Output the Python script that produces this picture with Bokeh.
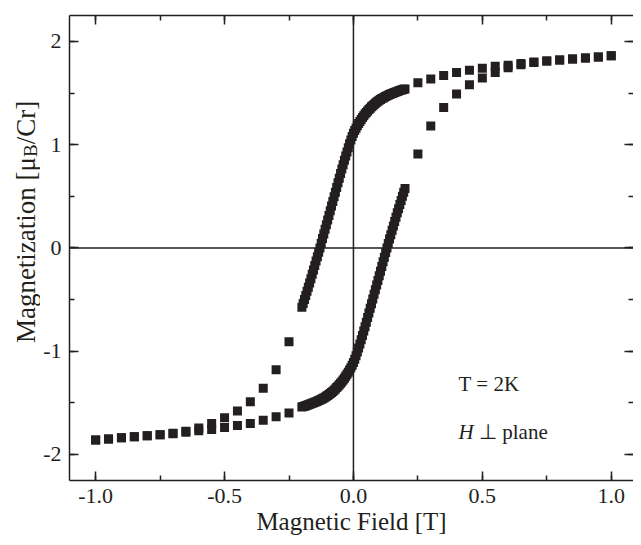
import numpy as np
from bokeh.plotting import figure
from bokeh.layouts import row
from bokeh.core.properties import value
from bokeh.models import Span, Label, LinearAxis, FixedTicker, Range1d
from bokeh.embed import file_html
from bokeh.resources import INLINE

# ---------------- data ----------------
# sparse outer points (0.05 T steps)
H_pos = [0.25, 0.30, 0.35, 0.40, 0.45, 0.50, 0.55, 0.60, 0.65, 0.70, 0.75, 0.80, 0.85, 0.90, 0.95, 1.00]
M_desc_pos = [1.60, 1.635, 1.67, 1.70, 1.72, 1.74, 1.76, 1.77, 1.785, 1.80, 1.81, 1.82, 1.83, 1.84, 1.85, 1.86]
M_asc_pos = [0.91, 1.18, 1.36, 1.49, 1.58, 1.645, 1.70, 1.745, 1.775, 1.795, 1.81, 1.82, 1.83, 1.84, 1.85, 1.86]

H_neg = [-1.00, -0.95, -0.90, -0.85, -0.80, -0.75, -0.70, -0.65, -0.60, -0.55, -0.50, -0.45, -0.40, -0.35, -0.30, -0.25]
M_asc_neg = [-1.86, -1.85, -1.84, -1.83, -1.82, -1.81, -1.80, -1.785, -1.77, -1.76, -1.74, -1.72, -1.70, -1.67, -1.635, -1.60]
M_desc_neg = [-1.86, -1.85, -1.84, -1.83, -1.82, -1.81, -1.795, -1.775, -1.745, -1.70, -1.645, -1.58, -1.49, -1.36, -1.18, -0.91]

# dense central points
H_dense = [0.200, 0.195, 0.190, 0.185, 0.180, 0.175, 0.170, 0.165, 0.160, 0.155,
           0.150, 0.145, 0.140, 0.135, 0.130, 0.125, 0.120, 0.115, 0.110, 0.105,
           0.100, 0.095, 0.090, 0.085, 0.080, 0.075, 0.070, 0.065, 0.060, 0.055,
           0.050, 0.045, 0.040, 0.035, 0.030, 0.025, 0.020, 0.015, 0.010, 0.005,
           0.000, -0.005, -0.010, -0.015, -0.020, -0.025, -0.030, -0.035, -0.040, -0.045,
           -0.050, -0.055, -0.060, -0.065, -0.070, -0.075, -0.080, -0.085, -0.090, -0.095,
           -0.100, -0.105, -0.110, -0.115, -0.120, -0.125, -0.130, -0.135, -0.140, -0.145,
           -0.150, -0.155, -0.160, -0.165, -0.170, -0.175, -0.180, -0.185, -0.190, -0.195,
           -0.200]
M_desc_dense = [1.540, 1.536, 1.533, 1.529, 1.525, 1.520, 1.515, 1.510, 1.505, 1.500,
                1.495, 1.490, 1.485, 1.479, 1.473, 1.467, 1.460, 1.453, 1.446, 1.438,
                1.430, 1.421, 1.411, 1.401, 1.390, 1.378, 1.366, 1.353, 1.340, 1.326,
                1.311, 1.296, 1.280, 1.262, 1.244, 1.225, 1.205, 1.183, 1.160, 1.136,
                1.110, 1.078, 1.045, 1.008, 0.970, 0.930, 0.890, 0.848, 0.805, 0.763,
                0.720, 0.675, 0.630, 0.585, 0.540, 0.495, 0.450, 0.405, 0.360, 0.315,
                0.270, 0.225, 0.180, 0.135, 0.090, 0.045, 0.000, -0.043, -0.085, -0.128,
                -0.170, -0.213, -0.255, -0.298, -0.340, -0.380, -0.420, -0.460, -0.500, -0.538,
                -0.575]
M_asc_dense = [0.575, 0.538, 0.500, 0.460, 0.420, 0.380, 0.340, 0.298, 0.255, 0.213,
               0.170, 0.128, 0.085, 0.043, 0.000, -0.045, -0.090, -0.135, -0.180, -0.225,
               -0.270, -0.315, -0.360, -0.405, -0.450, -0.495, -0.540, -0.585, -0.630, -0.675,
               -0.720, -0.763, -0.805, -0.848, -0.890, -0.930, -0.970, -1.008, -1.045, -1.078,
               -1.110, -1.136, -1.160, -1.183, -1.205, -1.225, -1.244, -1.262, -1.280, -1.296,
               -1.311, -1.326, -1.340, -1.353, -1.366, -1.378, -1.390, -1.401, -1.411, -1.421,
               -1.430, -1.438, -1.446, -1.453, -1.460, -1.467, -1.473, -1.479, -1.485, -1.490,
               -1.495, -1.500, -1.505, -1.510, -1.515, -1.520, -1.525, -1.529, -1.533, -1.536,
               -1.540]

x_ticks = [-1.0, -0.5, 0.0, 0.5, 1.0]
x_tick_labels = ["-1.0", "-0.5", "0.0", "0.5", "1.0"]
x_minor = [-1.0, -0.75, -0.5, -0.25, 0.0, 0.25, 0.5, 0.75, 1.0]
y_ticks = [-2, -1, 0, 1, 2]
y_tick_labels = ["-2", "-1", "0", "1", "2"]
y_minor = [-2.0, -1.5, -1.0, -0.5, 0.0, 0.5, 1.0, 1.5, 2.0]

# ---------------- main figure ----------------
INK = "#231f20"
FONT = "Liberation Serif"

p = figure(width=593, height=537, output_backend="svg", toolbar_location=None,
           x_range=Range1d(-1.1015, 1.0864), y_range=Range1d(-2.253, 2.251),
           min_border_left=26, min_border_right=0, min_border_top=15, min_border_bottom=56)
p.outline_line_color = None
p.grid.visible = False
p.background_fill_color = "white"
p.border_fill_color = "white"

p.add_layout(LinearAxis(), "above")
p.add_layout(LinearAxis(), "right")

for ax in p.xaxis:
    ax.ticker = FixedTicker(ticks=x_ticks, minor_ticks=x_minor)
for ax in p.yaxis:
    ax.ticker = FixedTicker(ticks=y_ticks, minor_ticks=y_minor)

for ax in list(p.xaxis) + list(p.yaxis):
    ax.major_tick_in = 9
    ax.major_tick_out = 0
    ax.minor_tick_in = 5
    ax.minor_tick_out = 0
    ax.major_tick_line_color = INK
    ax.minor_tick_line_color = INK
    ax.major_tick_line_width = 1.5
    ax.minor_tick_line_width = 1.5
    ax.axis_line_color = INK
    ax.axis_line_width = 1.5
    ax.major_label_text_font = FONT
    ax.major_label_text_color = INK
    ax.major_label_text_font_size = "22px"
    ax.axis_label_text_font = FONT
    ax.axis_label_text_font_style = "normal"
    ax.axis_label_text_color = INK

below = p.below[0]
left = p.left[0]
above = p.above[0]
right = p.right[0]

below.major_label_overrides = dict(zip(x_ticks, x_tick_labels))
left.major_label_overrides = dict(zip(y_ticks, y_tick_labels))

below.axis_label = "Magnetic Field [T]"
below.axis_label_text_font_size = "25px"
below.major_label_standoff = 8
below.axis_label_standoff = 2

left.major_label_standoff = 8

above.major_label_overrides = {t: "" for t in x_ticks}
right.major_label_overrides = {t: "" for t in y_ticks}
for ax in (above, right):
    ax.major_label_text_font_size = "1px"
    ax.major_label_standoff = 0
    ax.axis_label = None
right.axis_line_color = None

# zero lines
p.add_layout(Span(location=0, dimension="width", line_color=INK, line_width=1.5))
p.add_layout(Span(location=0, dimension="height", line_color=INK, line_width=1.5))

# markers
kw = dict(marker="square", size=9, fill_color=INK, line_color=INK, line_width=0)
p.scatter(H_pos, M_desc_pos, **kw)
p.scatter(H_pos, M_asc_pos, **kw)
p.scatter(H_neg, M_asc_neg, **kw)
p.scatter(H_neg, M_desc_neg, **kw)
p.scatter(H_dense, M_desc_dense, **kw)
p.scatter(H_dense, M_asc_dense, **kw)

# annotations
lab = dict(text_font=FONT, text_color=INK, text_font_size="21px", text_baseline="alphabetic")
p.add_layout(Label(x=0.408, y=-1.32, text="T = 2K", **lab))
p.add_layout(Label(x=0.408, y=-1.785, text="H", text_font_style="italic", **lab))
p.add_layout(Label(x=0.487, y=-1.785, text="\u22a5 plane", **lab))

# ---------------- y-axis title strip (text with subscript B) ----------------
ty = figure(width=40, height=537, output_backend="svg", toolbar_location=None,
            x_range=Range1d(0, 40), y_range=p.y_range,
            x_axis_location=None, y_axis_location=None,
            min_border_left=0, min_border_right=0, min_border_top=15, min_border_bottom=56)
ty.grid.visible = False
ty.outline_line_color = None
ty.border_fill_color = "white"
ty.background_fill_color = "white"

tkw = dict(angle=np.pi / 2, text_font=value(FONT), text_color=INK, text_baseline="alphabetic")
ty.text(x=[25.0], y=[0.881], text=["Magnetization [\u03bc"], text_font_size="27px",
        text_align="right", **tkw)
ty.text(x=[29.5], y=[0.881], text=["B"], text_font_size="19px", text_align="left", **tkw)
ty.text(x=[25.0], y=[1.004], text=["/Cr]"], text_font_size="27px", text_align="left", **tkw)

layout = row(ty, p)
open("out.html", "w").write(file_html(layout, INLINE))
